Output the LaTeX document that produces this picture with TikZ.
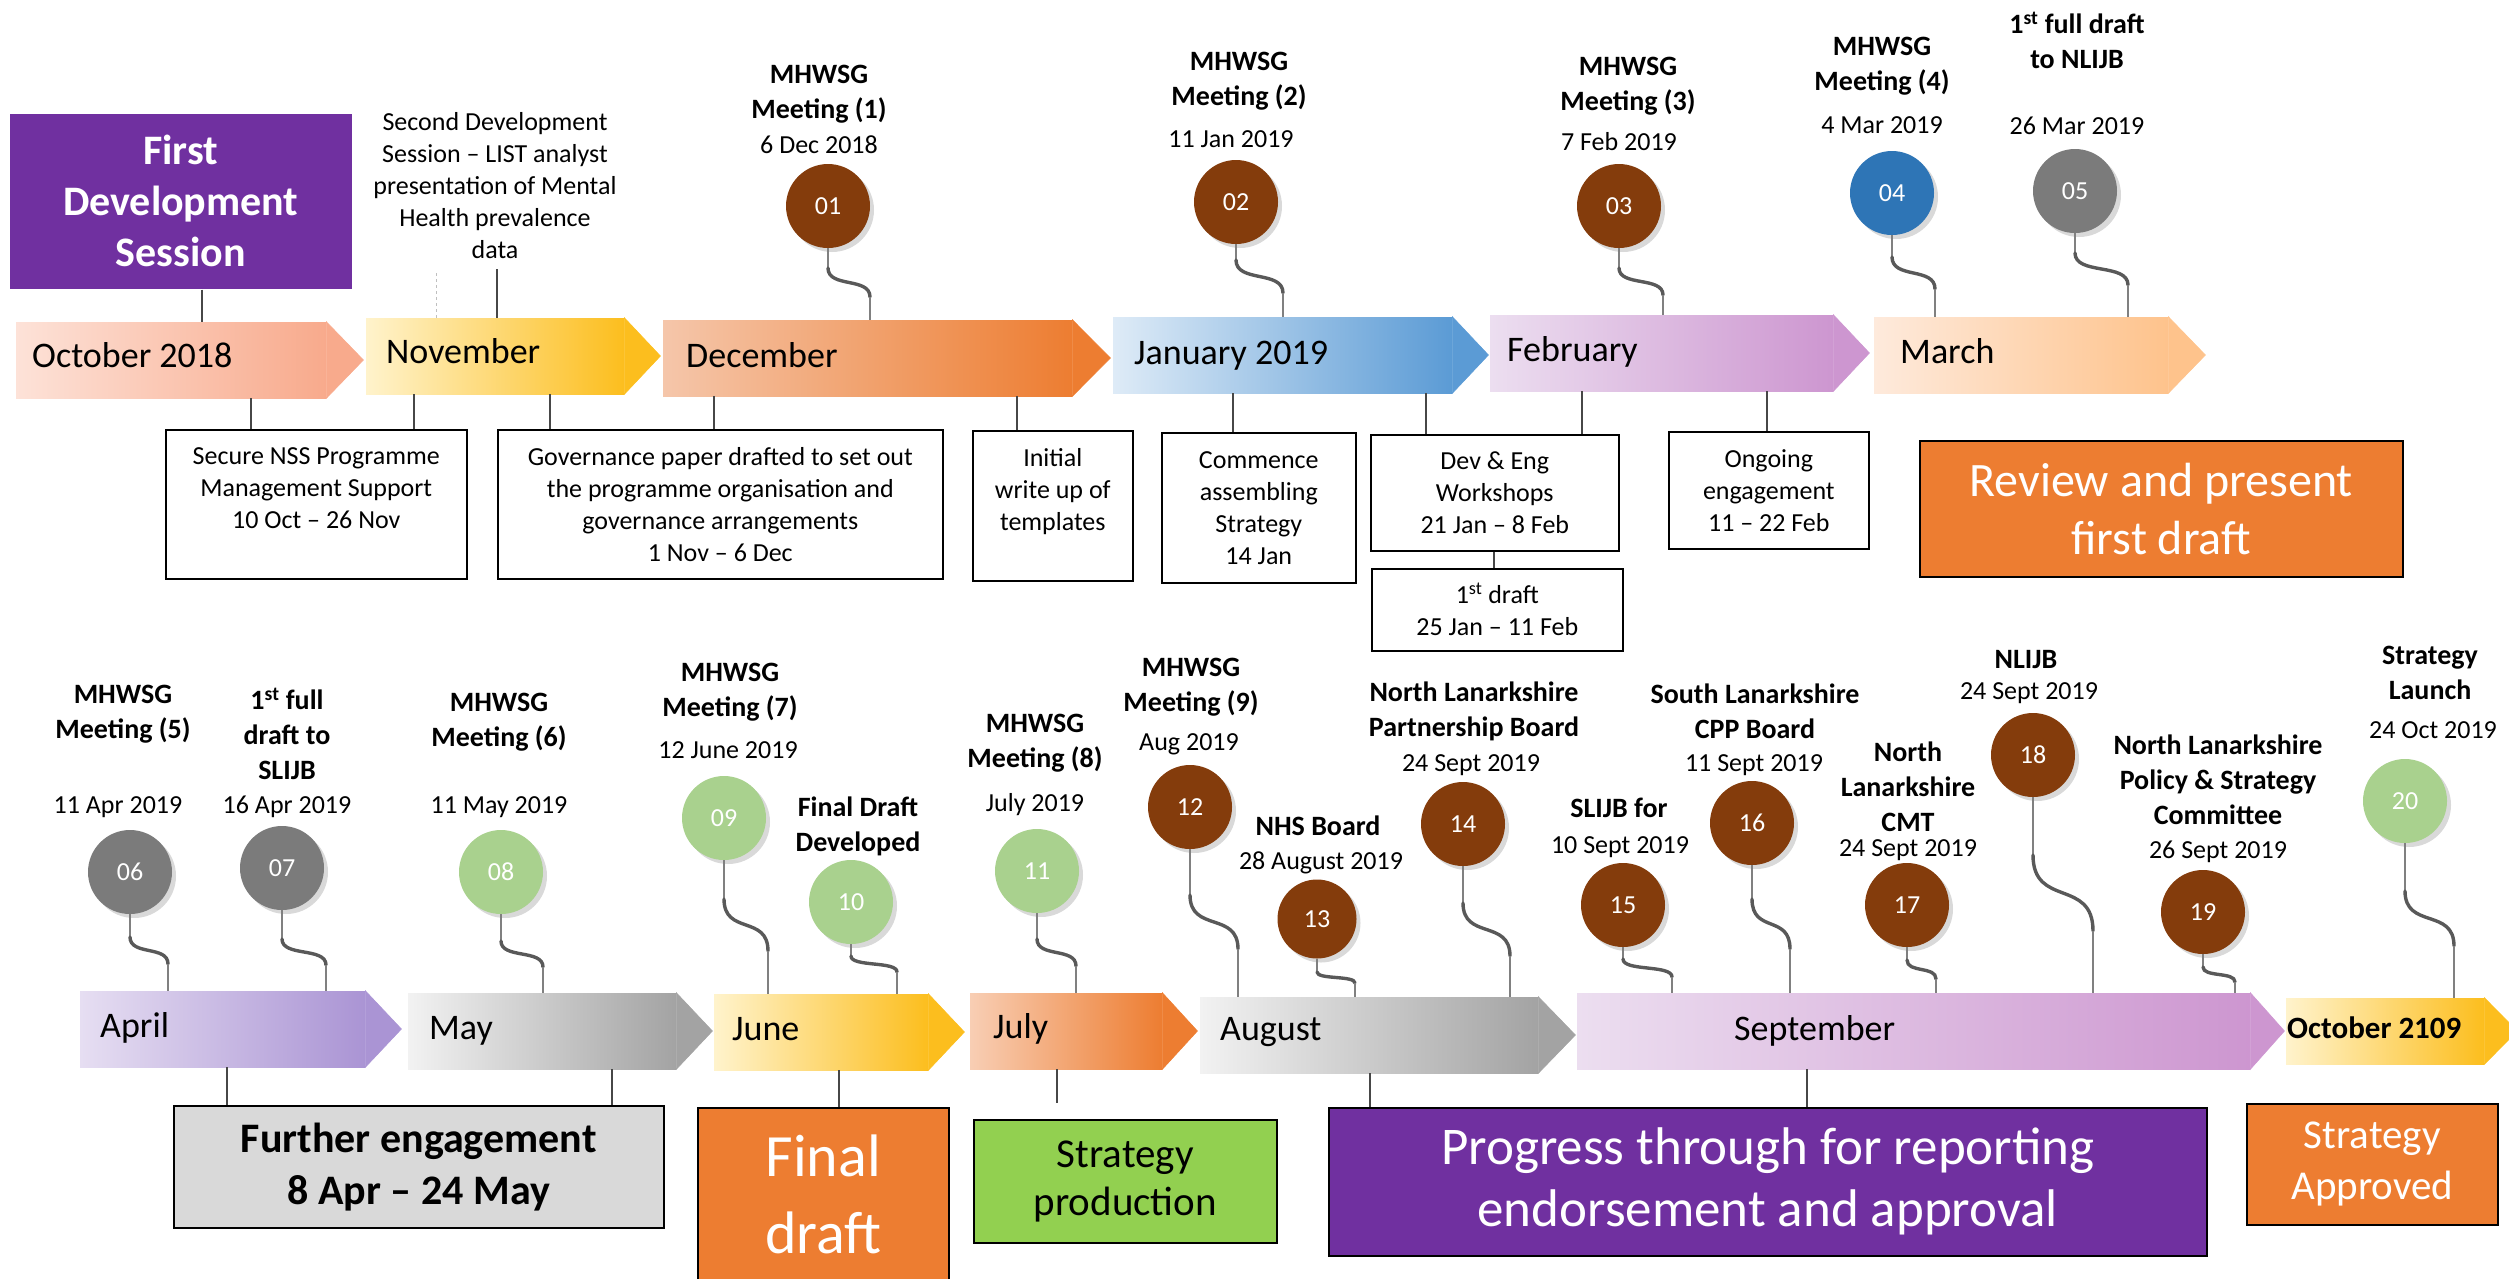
\documentclass[tikz,border=0pt]{standalone}
\usepackage{fontspec}
\setmainfont{Carlito}
\usetikzlibrary{shadows}

\definecolor{brownball}{HTML}{843C0C}
\definecolor{blueball}{HTML}{2E75B6}
\definecolor{grayball}{HTML}{7B7B7B}
\definecolor{greenball}{HTML}{A9D18E}
\definecolor{orangebox}{HTML}{ED7D31}
\definecolor{purplebox}{HTML}{7030A0}
\definecolor{greenbox}{HTML}{92D050}
\definecolor{graybox}{HTML}{D9D9D9}
\definecolor{octA}{RGB}{253,226,216}
\definecolor{octB}{RGB}{248,170,140}
\definecolor{yelA}{RGB}{255,243,204}
\definecolor{yelB}{RGB}{252,190,30}
\definecolor{decA}{RGB}{245,198,170}
\definecolor{decB}{RGB}{237,125,49}
\definecolor{janA}{RGB}{222,235,247}
\definecolor{janB}{RGB}{91,155,213}
\definecolor{pinkA}{RGB}{236,222,240}
\definecolor{pinkB}{RGB}{205,150,208}
\definecolor{marA}{RGB}{254,234,220}
\definecolor{marB}{RGB}{254,195,140}
\definecolor{aprA}{RGB}{230,222,242}
\definecolor{aprB}{RGB}{170,148,212}
\definecolor{greyA}{RGB}{242,242,242}
\definecolor{greyB}{RGB}{163,163,163}
\definecolor{julA}{RGB}{248,206,180}

\newcommand{\barpoint}[3]{%
  \filldraw[#3,line width=.6pt] (#1.north east) -- ([xshift=#2]#1.east) -- (#1.south east) -- cycle;}
\newcommand{\balloontail}[5]{%
  \draw[tail thin] (#1.south) -- (#1.south |- 0,#3);
  \draw[tail thick] (#1.south |- 0,#3) .. controls +(0,{0.7*(#5-#3)}) and +(0,{-0.7*(#5-#3)}) .. (#4,#5);
  \draw[tail thin] (#4,#5) -- (#4,0 |- #2.north);}

\begin{document}
\begin{tikzpicture}[x=1pt,y=-1pt,
  month/.style={rectangle,inner sep=0pt,minimum height=76pt,anchor=west},
  month text/.style={anchor=west,inner sep=0pt,text height=25pt,text depth=7pt,font=\fontsize{36}{40}\selectfont},
  ball/.style={circle,minimum size=84pt,inner sep=0pt,text=white,font=\fontsize{26}{30}\selectfont,
    drop shadow={shadow xshift=4pt,shadow yshift=-4pt,opacity=.3}},
  event title/.style={align=center,inner sep=0pt,font=\bfseries\fontsize{28}{35}\selectfont},
  event date/.style={inner sep=0pt,font=\fontsize{26}{30}\selectfont},
  infobox/.style={draw,line width=1.6pt,fill=white,align=center,anchor=north west,inner sep=0pt,
    font=\fontsize{26}{32}\selectfont},
  phasebox/.style={draw,line width=1.6pt,align=center,anchor=north west,inner sep=0pt},
  link/.style={line width=2.2pt,draw=black!72},
  tail thin/.style={line width=1.2pt,draw=black!50},
  tail thick/.style={line width=3.4pt,draw=black!65,line cap=round}]

\useasboundingbox (0,0) rectangle (2509,1278);

\node[month,minimum width=310pt,left color=octA,right color=octB] (oct) at (16,360) {};
\node[month,minimum width=258pt,left color=yelA,right color=yelB] (nov) at (366,356) {};
\node[month,minimum width=409pt,left color=decA,right color=decB] (dec) at (663,358) {};
\node[month,minimum width=339pt,left color=janA,right color=janB] (jan) at (1113,355) {};
\node[month,minimum width=343pt,left color=pinkA,right color=pinkB] (feb) at (1490,353) {};
\node[month,minimum width=294pt,left color=marA,right color=marB] (mar) at (1874,355) {};
\barpoint{oct}{37pt}{octB}
\barpoint{nov}{36pt}{yelB}
\barpoint{dec}{38pt}{decB}
\barpoint{jan}{36pt}{janB}
\barpoint{feb}{36pt}{pinkB}
\barpoint{mar}{37pt}{marB}
\node[month text] (octlab) at (32,358) {October 2018};
\node[month text] (novlab) at (386,354) {November};
\node[month text] (declab) at (686,358) {December};
\node[month text] (janlab) at (1134,355) {January 2019};
\node[month text] (feblab) at (1507,352) {February};
\node[month text] (marlab) at (1900,354) {March};

\node[month,minimum width=285pt,left color=aprA,right color=aprB] (apr) at (80,1029) {};
\node[month,minimum width=268pt,left color=greyA,right color=greyB] (may) at (408,1031) {};
\node[month,minimum width=214pt,left color=yelA,right color=yelB] (jun) at (714,1032) {};
\node[month,minimum width=192pt,left color=julA,right color=decB] (jul) at (970,1031) {};
\node[month,minimum width=338pt,left color=greyA,right color=greyB] (aug) at (1200,1035) {};
\node[month,minimum width=673pt,left color=pinkA,right color=pinkB] (sep) at (1577,1031) {};
\node[month,minimum width=198pt,minimum height=66pt,left color=yelA,right color=yelB] (octnext) at (2286,1031) {};
\barpoint{apr}{36pt}{aprB}
\barpoint{may}{36pt}{greyB}
\barpoint{jun}{36pt}{yelB}
\barpoint{jul}{35pt}{decB}
\barpoint{aug}{37pt}{greyB}
\barpoint{sep}{34pt}{pinkB}
\barpoint{octnext}{33pt}{yelB}
\node[month text] (aprlab) at (100,1028) {April};
\node[month text] (maylab) at (429,1030) {May};
\node[month text] (junlab) at (732,1031) {June};
\node[month text] (jullab) at (993,1029) {July};
\node[month text] (auglab) at (1220,1031) {August};
\node[month text] (seplab) at (1734,1031) {September};
\node[month text,font=\bfseries\fontsize{31}{36}\selectfont] (octnextlab) at (2287,1029) {October 2109};

\node[phasebox,draw=none,fill=purplebox,text=white,minimum width=342pt,minimum height=175pt,
  font=\bfseries\fontsize{42}{51}\selectfont] (firstdev) at (9,113) {First\\Development\\Session};
\node[align=center,inner sep=0pt,font=\fontsize{26}{32}\selectfont] (seconddev) at (495,186)
  {Second Development\\Session -- LIST analyst\\presentation of Mental\\Health prevalence\\data};
\node[infobox,minimum width=301pt,minimum height=149pt] (secure) at (165,429)
  {Secure NSS Programme\\Management Support\\10 Oct -- 26 Nov\\\mbox{}};
\node[infobox,minimum width=445pt,minimum height=149pt] (govern) at (497,429)
  {Governance paper drafted to set out\\the programme organisation and\\governance arrangements\\1 Nov -- 6 Dec};
\node[infobox,minimum width=160pt,minimum height=150pt] (initial) at (972,430) {Initial\\write up of\\templates\\\mbox{}};
\node[infobox,minimum width=194pt,minimum height=150pt] (commence) at (1161,432) {Commence\\assembling\\Strategy\\14 Jan};
\node[infobox,minimum width=248pt,minimum height=116pt] (deveng) at (1370,434) {Dev \& Eng\\Workshops\\21 Jan -- 8 Feb};
\node[infobox,minimum width=251pt,minimum height=82pt] (draftone) at (1371,568) {1\textsuperscript{st} draft\\25 Jan -- 11 Feb};
\node[infobox,minimum width=200pt,minimum height=117pt] (ongoing) at (1668,431) {Ongoing\\engagement\\11 -- 22 Feb};
\node[phasebox,fill=orangebox,text=white,minimum width=483pt,minimum height=136pt,
  font=\fontsize{48}{58}\selectfont] (review) at (1919,440) {Review and present\\first draft};

\node[phasebox,fill=graybox,minimum width=490pt,minimum height=122pt,
  font=\bfseries\fontsize{42}{52}\selectfont] (further) at (173,1105) {Further engagement\\8 Apr -- 24 May};
\node[phasebox,fill=orangebox,text=white,minimum width=251pt,minimum height=173pt,
  font=\fontsize{60}{77}\selectfont] (finaldraft) at (697,1107) {Final\\draft};
\node[phasebox,fill=greenbox,minimum width=303pt,minimum height=123pt,
  font=\fontsize{41}{48}\selectfont] (production) at (973,1119) {Strategy\\production};
\node[phasebox,fill=purplebox,text=white,minimum width=878pt,minimum height=148pt,
  font=\fontsize{53}{62}\selectfont] (progress) at (1328,1107) {Progress through for reporting\\endorsement and approval};
\node[phasebox,fill=orangebox,text=white,minimum width=251pt,minimum height=121pt,
  font=\fontsize{41}{51}\selectfont] (approved) at (2246,1103) {Strategy\\Approved};

\path[link] (202,0 |- firstdev.south) edge (202,0 |- oct.north)
 (497,0 |- seconddev.south) edge[shorten <=10pt] (497,0 |- nov.north)
 (251,0 |- oct.south) edge (251,0 |- secure.north)
 (414,0 |- nov.south) edge (414,0 |- secure.north)
 (550,0 |- nov.south) edge (550,0 |- govern.north)
 (714,0 |- dec.south) edge (714,0 |- govern.north)
 (1017,0 |- dec.south) edge (1017,0 |- initial.north)
 (1233,0 |- jan.south) edge (1233,0 |- commence.north)
 (1426,0 |- jan.south) edge (1426,0 |- deveng.north)
 (1582,0 |- feb.south) edge (1582,0 |- deveng.north)
 (1494,0 |- deveng.south) edge (1494,0 |- draftone.north)
 (1767,0 |- feb.south) edge (1767,0 |- ongoing.north);
\path[draw=black!25,line width=.8pt,dashed] (436,0 |- seconddev.south) edge[shorten <=14pt] (436,0 |- nov.north);
\path[link] (227,0 |- apr.south) edge (227,0 |- further.north)
 (612,0 |- may.south) edge (612,0 |- further.north)
 (839,0 |- jun.south) edge (839,0 |- finaldraft.north)
 (1057,0 |- jul.south) edge[shorten >=16pt] (1057,0 |- production.north)
 (1370,0 |- aug.south) edge (1370,0 |- progress.north)
 (1807,0 |- sep.south) edge (1807,0 |- progress.north);

\node[ball,fill=brownball] (b01) at (828,206) {01};
\node[event title] (t01) at (819,94) {MHWSG\\Meeting (1)};
\node[event date] (d01) at (819,145) {6 Dec 2018};
\balloontail{b01}{dec}{268}{870}{297}
\node[ball,fill=brownball] (b02) at (1236,202) {02};
\node[event title] (t02) at (1239,81) {MHWSG\\Meeting (2)};
\node[event date] (d02) at (1231,139) {11 Jan 2019};
\balloontail{b02}{jan}{260}{1283}{293}
\node[ball,fill=brownball] (b03) at (1619,206) {03};
\node[event title] (t03) at (1628,86) {MHWSG\\Meeting (3)};
\node[event date] (d03) at (1619,142) {7 Feb 2019};
\balloontail{b03}{feb}{268}{1663}{295}
\node[ball,fill=blueball] (b04) at (1892,193) {04};
\node[event title] (t04) at (1882,66) {MHWSG\\Meeting (4)};
\node[event date] (d04) at (1882,125) {4 Mar 2019};
\balloontail{b04}{mar}{257}{1935}{289}
\node[ball,fill=grayball] (b05) at (2075,191) {05};
\node[event title] (t05) at (2077,40) {1\textsuperscript{st} full draft\\to NLIJB};
\node[event date] (d05) at (2077,126) {26 Mar 2019};
\balloontail{b05}{mar}{253}{2128}{285}

\node[ball,fill=grayball] (b06) at (130,872) {06};
\node[event title] (t06) at (123,714) {MHWSG\\Meeting (5)};
\node[event date] (d06) at (118,807) {11 Apr 2019};
\balloontail{b06}{apr}{937}{168}{964}
\node[ball,fill=grayball] (b07) at (282,868) {07};
\node[event title] (t07) at (287,734) {1\textsuperscript{st} full\\draft to\\SLIJB};
\node[event date] (d07) at (287,807) {16 Apr 2019};
\balloontail{b07}{apr}{939}{326}{965}
\node[ball,fill=greenball] (b08) at (501,872) {08};
\node[event title] (t08) at (499,722) {MHWSG\\Meeting (6)};
\node[event date] (d08) at (499,807) {11 May 2019};
\balloontail{b08}{may}{941}{543}{967}
\node[ball,fill=greenball] (b09) at (724,818) {09};
\node[event title] (t09) at (730,692) {MHWSG\\Meeting (7)};
\node[event date] (d09) at (728,750) {12 June 2019};
\balloontail{b09}{jun}{899}{768}{951}
\node[ball,fill=greenball] (b10) at (851,902) {10};
\node[event title] (t10) at (858,826) {Final Draft\\Developed};
\balloontail{b10}{jun}{956}{897}{972}
\node[ball,fill=greenball] (b11) at (1037,871) {11};
\node[event title] (t11) at (1035,743) {MHWSG\\Meeting (8)};
\node[event date] (d11) at (1035,805) {July 2019};
\balloontail{b11}{jul}{939}{1076}{966}
\node[ball,fill=brownball] (b12) at (1190,807) {12};
\node[event title] (t12) at (1191,687) {MHWSG\\Meeting (9)};
\node[event date] (d12) at (1189,744) {Aug 2019};
\balloontail{b12}{aug}{895}{1238}{949}
\node[ball,fill=brownball,minimum size=79pt] (b13) at (1317,919) {13};
\node[event title] (t13) at (1318,826) {NHS Board};
\node[event date] (d13) at (1321,863) {28 August 2019};
\balloontail{b13}{aug}{972}{1355}{983}
\node[ball,fill=brownball] (b14) at (1463,824) {14};
\node[event title] (t14) at (1474,711) {North Lanarkshire\\Partnership Board};
\node[event date] (d14) at (1471,765) {24 Sept 2019};
\balloontail{b14}{aug}{903}{1510}{956}
\node[ball,fill=brownball] (b15) at (1623,905) {15};
\node[event title] (t15) at (1619,808) {SLIJB for};
\node[event date] (d15) at (1620,847) {10 Sept 2019};
\balloontail{b15}{sep}{959}{1672}{977}
\node[ball,fill=brownball] (b16) at (1752,823) {16};
\node[event title] (t16) at (1755,711) {South Lanarkshire\\CPP Board};
\node[event date] (d16) at (1754,765) {11 Sept 2019};
\balloontail{b16}{sep}{899}{1790}{949}
\node[ball,fill=brownball] (b17) at (1907,905) {17};
\node[event title] (t17) at (1908,787) {North\\Lanarkshire\\CMT};
\node[event date] (d17) at (1908,850) {24 Sept 2019};
\balloontail{b17}{sep}{960}{1936}{979}
\node[ball,fill=brownball] (b18) at (2033,755) {18};
\node[event title] (t18) at (2026,660) {NLIJB};
\node[event date] (d18) at (2029,693) {24 Sept 2019};
\balloontail{b18}{sep}{855}{2093}{931}
\node[ball,fill=brownball] (b19) at (2203,912) {19};
\node[event title] (t19) at (2218,780) {North Lanarkshire\\Policy \& Strategy\\Committee};
\node[event date] (d19) at (2218,852) {26 Sept 2019};
\balloontail{b19}{sep}{967}{2235}{982}
\node[ball,fill=greenball] (b20) at (2405,801) {20};
\node[event title] (t20) at (2430,673) {Strategy\\Launch};
\node[event date] (d20) at (2433,730) {24 Oct 2019};
\balloontail{b20}{octnext}{891}{2454}{946}

\end{tikzpicture}
\end{document}
